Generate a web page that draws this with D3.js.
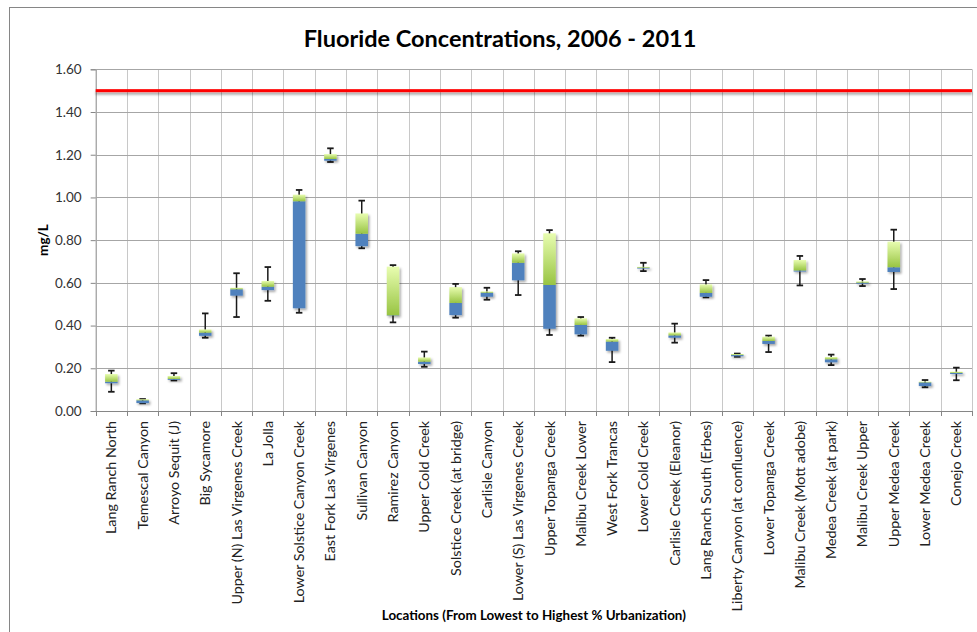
<!DOCTYPE html>
<html>
<head>
<meta charset="utf-8">
<script src="https://cdn.jsdelivr.net/npm/d3@7"></script>
<style>
  html, body { margin: 0; padding: 0; background: #fff; }
  svg { display: block; font-family: Lato, "Open Sans", sans-serif; }
</style>
</head>
<body>
<svg id="chart" width="977" height="632"></svg>
<script>
// Sampling locations, ordered from lowest to highest % urbanization
const locations = [
  "Lang Ranch North", "Temescal Canyon", "Arroyo Sequit (J)", "Big Sycamore",
  "Upper (N) Las Virgenes Creek", "La Jolla", "Lower Solstice Canyon Creek",
  "East Fork Las Virgenes", "Sullivan Canyon", "Ramirez Canyon", "Upper Cold Creek",
  "Solstice Creek (at bridge)", "Carlisle Canyon", "Lower (S) Las Virgenes Creek",
  "Upper Topanga Creek", "Malibu Creek Lower", "West Fork Trancas", "Lower Cold Creek",
  "Carlisle Creek (Eleanor)", "Lang Ranch South (Erbes)", "Liberty Canyon (at confluence)",
  "Lower Topanga Creek", "Malibu Creek (Mott adobe)", "Medea Creek (at park)",
  "Malibu Creek Upper", "Upper Medea Creek", "Lower Medea Creek", "Conejo Creek"
];

// Five-number summaries (mg/L)
const minVals    = [0.090, 0.036, 0.143, 0.343, 0.440, 0.516, 0.460, 1.166, 0.762, 0.415, 0.207, 0.437, 0.521, 0.543, 0.356, 0.353, 0.229, 0.655, 0.320, 0.532, 0.254, 0.276, 0.588, 0.215, 0.585, 0.571, 0.111, 0.144];
const q1Vals     = [0.130, 0.037, 0.146, 0.352, 0.540, 0.566, 0.481, 1.172, 0.772, 0.446, 0.220, 0.449, 0.535, 0.612, 0.385, 0.359, 0.282, 0.667, 0.343, 0.535, 0.256, 0.314, 0.653, 0.228, 0.596, 0.651, 0.117, 0.173];
const medianVals = [0.137, 0.050, 0.150, 0.367, 0.570, 0.582, 0.982, 1.180, 0.830, 0.448, 0.231, 0.506, 0.554, 0.694, 0.590, 0.403, 0.325, 0.671, 0.354, 0.553, 0.262, 0.328, 0.658, 0.242, 0.601, 0.673, 0.134, 0.178];
const q3Vals     = [0.173, 0.055, 0.164, 0.382, 0.577, 0.609, 1.013, 1.203, 0.925, 0.676, 0.251, 0.580, 0.560, 0.738, 0.832, 0.434, 0.337, 0.675, 0.368, 0.593, 0.267, 0.348, 0.707, 0.253, 0.607, 0.793, 0.138, 0.184];
const maxVals    = [0.189, 0.056, 0.177, 0.457, 0.645, 0.674, 1.035, 1.230, 0.985, 0.683, 0.278, 0.595, 0.577, 0.748, 0.847, 0.440, 0.343, 0.694, 0.409, 0.613, 0.269, 0.353, 0.726, 0.264, 0.618, 0.849, 0.145, 0.203];

// Drinking-water limit line
const limitValue = 1.5;
const yTicks = [0, 0.2, 0.4, 0.6, 0.8, 1.0, 1.2, 1.4, 1.6];

const titleText = "Fluoride Concentrations, 2006 - 2011";
const yTitle = "mg/L";
const xTitle = "Locations (From Lowest to Highest % Urbanization)";

const svg = d3.select("#chart");
const plot = { left: 95.7, right: 972, top: 69.3, bottom: 411 };

const x = d3.scaleBand().domain(locations).range([plot.left, plot.right]).padding(0);
const y = d3.scaleLinear().domain([0, 1.6]).range([plot.bottom, plot.top]);

const defs = svg.append("defs");
const grad = defs.append("linearGradient")
  .attr("id", "greenGrad").attr("x1", 0).attr("y1", 0).attr("x2", 0).attr("y2", 1);
grad.append("stop").attr("offset", "0%").attr("stop-color", "#e8fdb0");
grad.append("stop").attr("offset", "100%").attr("stop-color", "#98c443");

// Soft drop shadows (regions wide enough for any local coordinate system)
const shadow = defs.append("filter").attr("id", "shadow")
  .attr("filterUnits", "userSpaceOnUse")
  .attr("x", -1000).attr("y", -1000).attr("width", 3000).attr("height", 3000);
shadow.append("feDropShadow").attr("dx", 1.5).attr("dy", 1.8).attr("stdDeviation", 1.2)
  .attr("flood-color", "#000").attr("flood-opacity", 0.35);

const lineShadow = defs.append("filter").attr("id", "lineShadow")
  .attr("filterUnits", "userSpaceOnUse")
  .attr("x", -1000).attr("y", -1000).attr("width", 3000).attr("height", 3000);
lineShadow.append("feDropShadow").attr("dx", 0).attr("dy", 2.5).attr("stdDeviation", 1.3)
  .attr("flood-color", "#000").attr("flood-opacity", 0.35);

// Outer chart frame
svg.append("rect")
  .attr("x", 9.5).attr("y", 7.5).attr("width", 1000).attr("height", 700)
  .attr("fill", "none").attr("stroke", "#868686").attr("stroke-width", 1);

// Title
svg.append("text")
  .attr("x", 500).attr("y", 47)
  .attr("text-anchor", "middle")
  .attr("font-size", 23.5).attr("font-weight", 700).attr("fill", "#000")
  .text(titleText);

// Vertical gridlines at category boundaries
const boundaries = locations.map(d => x(d)).concat([plot.right]);
svg.append("g").selectAll("line").data(boundaries.slice(1)).join("line")
  .attr("x1", d => Math.round(d) + 0.5).attr("x2", d => Math.round(d) + 0.5)
  .attr("y1", plot.top).attr("y2", plot.bottom)
  .attr("stroke", "#c8c8c8").attr("stroke-width", 1);

// Horizontal gridlines and y axis
const yAxis = d3.axisLeft(y).tickValues(yTicks).tickFormat(d3.format(".2f"))
  .tickSize(5).tickPadding(9);
const yG = svg.append("g").attr("transform", `translate(${plot.left},0)`).call(yAxis);
yG.select(".domain").attr("stroke", "#868686");
yG.selectAll(".tick line").attr("stroke", "#868686");
yG.selectAll(".tick text").attr("font-size", 13.5).attr("fill", "#333")
  .attr("font-family", "Lato, 'Open Sans', sans-serif");

svg.append("g").selectAll("line").data(yTicks.filter(v => v > 0)).join("line")
  .attr("x1", plot.left).attr("x2", plot.right)
  .attr("y1", d => Math.round(y(d)) + 0.5).attr("y2", d => Math.round(y(d)) + 0.5)
  .attr("stroke", "#a6a6a6").attr("stroke-width", 1);

// Limit line
svg.append("rect")
  .attr("x", plot.left).attr("width", plot.right - plot.left)
  .attr("y", y(limitValue) - 1.5).attr("height", 3)
  .attr("fill", "#ff0000")
  .attr("filter", "url(#lineShadow)");

// X axis line, boundary ticks and labels
svg.append("line")
  .attr("x1", plot.left).attr("x2", plot.right)
  .attr("y1", plot.bottom + 0.5).attr("y2", plot.bottom + 0.5)
  .attr("stroke", "#868686");
svg.append("g").selectAll("line").data(boundaries).join("line")
  .attr("x1", d => Math.round(d) + 0.5).attr("x2", d => Math.round(d) + 0.5)
  .attr("y1", plot.bottom).attr("y2", plot.bottom + 5)
  .attr("stroke", "#868686");

const xAxis = d3.axisBottom(x).tickSize(0).tickPadding(0);
const xG = svg.append("g").attr("transform", `translate(0,${plot.bottom})`).call(xAxis);
xG.select(".domain").remove();
xG.selectAll(".tick text")
  .attr("font-family", "Lato, 'Open Sans', sans-serif")
  .attr("font-size", 14.3).attr("fill", "#222")
  .attr("transform", "rotate(-90)")
  .attr("x", -10).attr("y", 0).attr("dy", "0.35em")
  .style("text-anchor", "end");

// Axis titles
svg.append("text")
  .attr("transform", "translate(48,240) rotate(-90)")
  .attr("text-anchor", "middle")
  .attr("font-size", 13.5).attr("font-weight", 700).attr("fill", "#000")
  .text(yTitle);
svg.append("text")
  .attr("x", (plot.left + plot.right) / 2).attr("y", 620)
  .attr("text-anchor", "middle")
  .attr("font-size", 13.4).attr("font-weight", 700).attr("fill", "#000")
  .text(xTitle);

// Box plots
const boxW = x.bandwidth() * 0.4;
const capW = 6.5;
const rows = locations.map((name, i) => ({
  name, min: minVals[i], q1: q1Vals[i], med: medianVals[i], q3: q3Vals[i], max: maxVals[i]
}));

const boxes = svg.append("g").selectAll("g").data(rows).join("g")
  .attr("transform", d => `translate(${x(d.name) + x.bandwidth() / 2},0)`);

// Whiskers
boxes.append("line")
  .attr("x1", 0).attr("x2", 0)
  .attr("y1", d => y(d.max)).attr("y2", d => y(d.min))
  .attr("stroke", "#1a1a1a").attr("stroke-width", 1.5);
boxes.append("line")
  .attr("x1", -capW / 2).attr("x2", capW / 2)
  .attr("y1", d => y(d.max)).attr("y2", d => y(d.max))
  .attr("stroke", "#1a1a1a").attr("stroke-width", 1.8);
boxes.append("line")
  .attr("x1", -capW / 2).attr("x2", capW / 2)
  .attr("y1", d => y(d.min)).attr("y2", d => y(d.min))
  .attr("stroke", "#1a1a1a").attr("stroke-width", 1.8);

// Lower half (Q1 to median) and upper half (median to Q3)
const boxG = boxes.append("g").attr("filter", "url(#shadow)");
boxG.append("rect")
  .attr("x", -boxW / 2).attr("width", boxW)
  .attr("y", d => y(d.med)).attr("height", d => Math.max(0, y(d.q1) - y(d.med)))
  .attr("fill", "#4f81bd");
boxG.append("rect")
  .attr("x", -boxW / 2).attr("width", boxW)
  .attr("y", d => y(d.q3)).attr("height", d => Math.max(0, y(d.med) - y(d.q3)))
  .attr("fill", "url(#greenGrad)");
</script>
</body>
</html>
